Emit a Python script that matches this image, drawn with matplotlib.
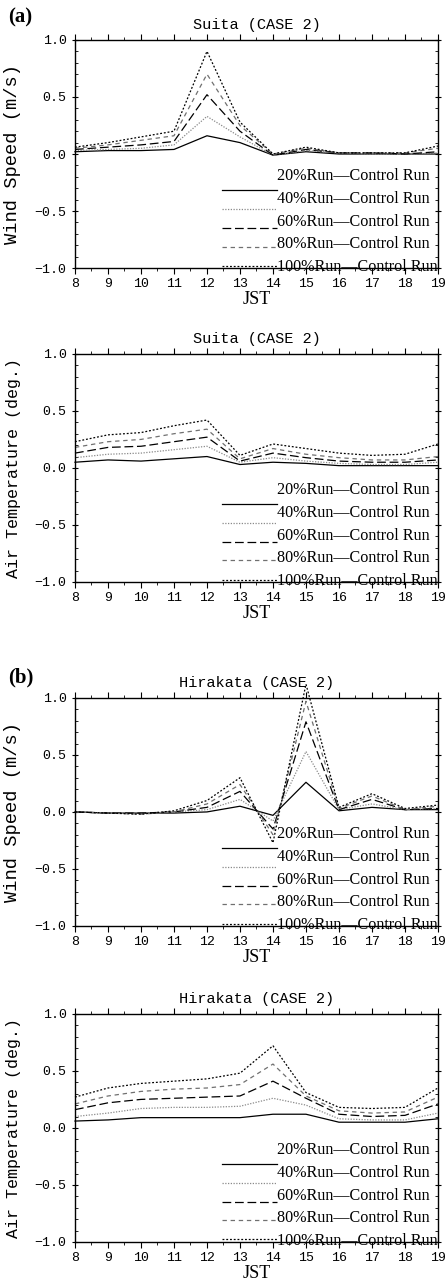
import matplotlib
matplotlib.use("Agg")
import matplotlib.pyplot as plt
from matplotlib.legend_handler import HandlerLine2D
from matplotlib.ticker import MultipleLocator, FuncFormatter

# heures (JST)
hours = [8, 9, 10, 11, 12, 13, 14, 15, 16, 17, 18, 19]
runs = ["20%Run", "40%Run", "60%Run", "80%Run", "100%Run"]

# (a) Suita - vitesse du vent
suita_wind_20 = [0.02, 0.03, 0.03, 0.04, 0.16, 0.10, -0.01, 0.02, 0.00, 0.00, 0.00, 0.00]
suita_wind_40 = [0.03, 0.04, 0.05, 0.08, 0.33, 0.15, -0.01, 0.03, 0.01, 0.00, 0.00, 0.01]
suita_wind_60 = [0.04, 0.06, 0.08, 0.11, 0.52, 0.20, -0.01, 0.04, 0.01, 0.01, 0.00, 0.02]
suita_wind_80 = [0.05, 0.08, 0.12, 0.16, 0.70, 0.25, 0.00, 0.05, 0.01, 0.01, 0.01, 0.05]
suita_wind_100 = [0.06, 0.10, 0.15, 0.20, 0.90, 0.28, 0.00, 0.06, 0.01, 0.01, 0.01, 0.07]

# (a) Suita - température de l'air
suita_temp_20 = [0.05, 0.07, 0.06, 0.08, 0.10, 0.03, 0.05, 0.04, 0.02, 0.02, 0.02, 0.02]
suita_temp_40 = [0.09, 0.12, 0.13, 0.16, 0.19, 0.05, 0.09, 0.06, 0.04, 0.03, 0.03, 0.05]
suita_temp_60 = [0.13, 0.18, 0.19, 0.23, 0.27, 0.06, 0.13, 0.09, 0.06, 0.05, 0.05, 0.07]
suita_temp_80 = [0.18, 0.23, 0.25, 0.30, 0.34, 0.08, 0.17, 0.12, 0.09, 0.07, 0.07, 0.10]
suita_temp_100 = [0.23, 0.29, 0.31, 0.37, 0.42, 0.11, 0.21, 0.17, 0.13, 0.11, 0.12, 0.21]

# (b) Hirakata - vitesse du vent
hira_wind_20 = [0.00, -0.01, -0.01, -0.01, 0.00, 0.05, -0.03, 0.26, 0.01, 0.04, 0.02, 0.02]
hira_wind_40 = [0.00, -0.01, -0.01, 0.00, 0.02, 0.11, -0.08, 0.53, 0.02, 0.07, 0.02, 0.03]
hira_wind_60 = [0.00, -0.01, -0.01, 0.00, 0.04, 0.18, -0.15, 0.79, 0.02, 0.11, 0.02, 0.03]
hira_wind_80 = [0.00, -0.01, -0.02, 0.00, 0.07, 0.24, -0.20, 0.97, 0.03, 0.14, 0.02, 0.05]
hira_wind_100 = [0.00, -0.01, -0.02, 0.01, 0.10, 0.30, -0.27, 1.12, 0.04, 0.16, 0.03, 0.06]

# (b) Hirakata - température de l'air
hira_temp_20 = [0.06, 0.07, 0.09, 0.09, 0.09, 0.09, 0.12, 0.12, 0.05, 0.05, 0.05, 0.08]
hira_temp_40 = [0.10, 0.13, 0.17, 0.18, 0.18, 0.19, 0.26, 0.20, 0.08, 0.07, 0.07, 0.13]
hira_temp_60 = [0.16, 0.22, 0.25, 0.26, 0.27, 0.28, 0.41, 0.26, 0.12, 0.10, 0.11, 0.21]
hira_temp_80 = [0.21, 0.28, 0.32, 0.34, 0.35, 0.38, 0.56, 0.28, 0.15, 0.13, 0.14, 0.27]
hira_temp_100 = [0.27, 0.35, 0.39, 0.41, 0.43, 0.48, 0.72, 0.31, 0.18, 0.17, 0.18, 0.35]

styles = [
    dict(color="black", linestyle="-", linewidth=0.9),
    dict(color="#8a8a8a", linestyle=(0, (1, 1.2)), linewidth=0.9),
    dict(color="black", linestyle=(0, (7, 3)), linewidth=0.9),
    dict(color="#707070", linestyle=(0, (3.5, 3)), linewidth=0.9),
    dict(color="black", linestyle=(0, (1.5, 1.5)), linewidth=0.9),
]
# décalage vers le bas des échantillons de la légende (en points)
legend_drop = [11.0, 8.2, 5.5, 2.7, 0.0]


# les échantillons de la légende sont décalés vers le bas comme dans l'original
class ShiftedLine(HandlerLine2D):
    def __init__(self, drop, **kw):
        super().__init__(**kw)
        self.drop = drop

    def create_artists(self, legend, orig_handle, xdescent, ydescent,
                       width, height, fontsize, trans):
        return super().create_artists(legend, orig_handle, xdescent,
                                      ydescent + 2 * self.drop, width, height,
                                      fontsize, trans)


mono = "Liberation Mono"
serif = "Liberation Serif"

fig = plt.figure(figsize=(4.45, 12.85), dpi=100)

panels = [
    ("Suita (CASE 2)", "Wind Speed (m/s)", 13.5,
     [suita_wind_20, suita_wind_40, suita_wind_60, suita_wind_80, suita_wind_100], 0.7914, "(a)", 1.10),
    ("Suita (CASE 2)", "Air Temperature (deg.)", 12,
     [suita_temp_20, suita_temp_40, suita_temp_60, suita_temp_80, suita_temp_100], 0.5471, None, 0),
    ("Hirakata (CASE 2)", "Wind Speed (m/s)", 13.5,
     [hira_wind_20, hira_wind_40, hira_wind_60, hira_wind_80, hira_wind_100], 0.2794, "(b)", 1.09),
    ("Hirakata (CASE 2)", "Air Temperature (deg.)", 12,
     [hira_temp_20, hira_temp_40, hira_temp_60, hira_temp_80, hira_temp_100], 0.0335, None, 0),
]

fmt = FuncFormatter(lambda v, p: ("%.1f" % v).replace("-", "\u2212"))

for title, ylabel, ysize, series, bottom, tag, tag_y in panels:
    ax = fig.add_axes([0.1685, bottom, 0.8157, 0.1775])
    handles = []
    for vals, st in zip(series, styles):
        ln, = ax.plot(hours, vals, clip_on=False, **st)
        handles.append(ln)

    ax.set_xlim(8, 19)
    ax.set_ylim(-1.0, 1.0)
    ax.xaxis.set_major_locator(MultipleLocator(1))
    ax.xaxis.set_minor_locator(MultipleLocator(0.5))
    ax.yaxis.set_major_locator(MultipleLocator(0.5))
    ax.yaxis.set_minor_locator(MultipleLocator(0.1))
    ax.yaxis.set_major_formatter(fmt)
    ax.tick_params(axis="x", which="major", direction="out", length=4,
                   top=True, labelsize=9.5, pad=3)
    ax.tick_params(axis="x", which="minor", direction="out", length=2, top=True)
    ax.tick_params(axis="y", which="major", direction="inout", length=5,
                   right=True, labelsize=9.5)
    ax.tick_params(axis="y", which="minor", direction="in", length=2.5, right=True)
    for lab in ax.get_xticklabels() + ax.get_yticklabels():
        lab.set_fontfamily(mono)
    for sp in ax.spines.values():
        sp.set_linewidth(1.0)

    ax.set_title(title, fontfamily=mono, fontsize=11, pad=8)
    ax.set_ylabel(ylabel, fontfamily=mono, fontsize=ysize)
    ax.yaxis.set_label_coords(-0.15, 0.5)
    ax.set_xlabel("JST", fontfamily=serif, fontsize=13, labelpad=1)

    if tag:
        ax.text(-0.15, tag_y, tag, transform=ax.transAxes, fontfamily=serif,
                fontsize=15, fontweight="bold", ha="center", va="center")

    labels = [r + "\u2014Control Run" for r in runs]
    hmap = {h: ShiftedLine(d) for h, d in zip(handles, legend_drop)}
    ax.legend(handles, labels, loc="lower right", bbox_to_anchor=(1.0, -0.035),
              frameon=False, prop={"family": serif, "size": 11.6},
              handlelength=3.4, handletextpad=0.0, labelspacing=0.42,
              borderaxespad=0.0, borderpad=0.05, handler_map=hmap)

fig.savefig("out.png", dpi=100)
